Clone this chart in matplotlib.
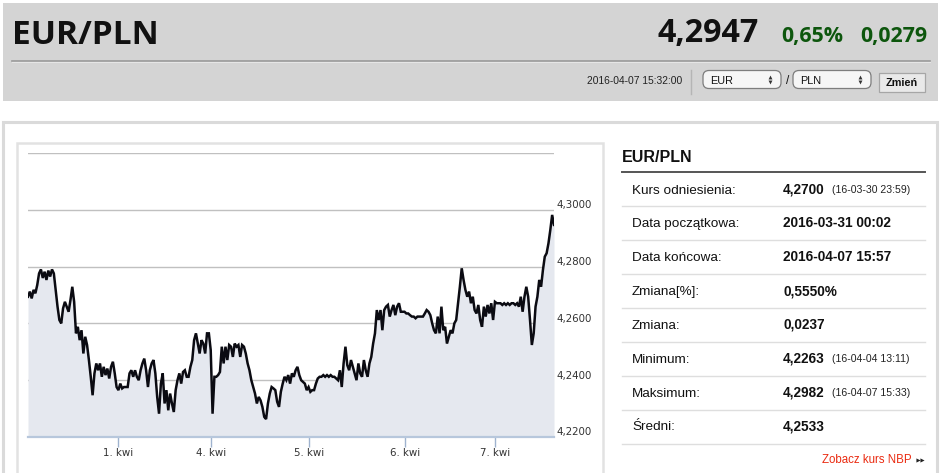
import numpy as np
import matplotlib
matplotlib.use("Agg")
import matplotlib.pyplot as plt
from matplotlib.patches import Rectangle, FancyBboxPatch
from matplotlib.transforms import blended_transform_factory

# ---------------- data ----------------
pair = "EUR/PLN"
last_rate = "4,2947"
change_pct = "0,65%"
change_abs = "0,0279"
timestamp = "2016-04-07 15:32:00"
base_cur = "EUR"
quote_cur = "PLN"
button_label = "Zmień"

# EUR/PLN quotes sampled about every 28 minutes of trading time (31 Mar 00:02 -> 7 Apr 15:57)
rates = [
    4.2694, 4.2712, 4.2688, 4.2718, 4.2706, 4.2735, 4.2776, 4.2790, 4.2760, 4.2782,
    4.2753, 4.2786, 4.2765, 4.2790, 4.2776, 4.2718, 4.2659, 4.2612, 4.2600, 4.2653,
    4.2676, 4.2659, 4.2641, 4.2682, 4.2729, 4.2676, 4.2565, 4.2588, 4.2541, 4.2576,
    4.2494, 4.2553, 4.2524, 4.2471, 4.2412, 4.2347, 4.2424, 4.2459, 4.2435, 4.2459,
    4.2412, 4.2447, 4.2418, 4.2441, 4.2406, 4.2447, 4.2465, 4.2424, 4.2376, 4.2365,
    4.2388, 4.2371, 4.2376, 4.2376, 4.2376, 4.2424, 4.2435, 4.2412, 4.2435, 4.2412,
    4.2400, 4.2435, 4.2459, 4.2476, 4.2435, 4.2376, 4.2435, 4.2459, 4.2471, 4.2424,
    4.2341, 4.2282, 4.2388, 4.2424, 4.2318, 4.2365, 4.2294, 4.2353, 4.2318, 4.2288,
    4.2365, 4.2400, 4.2424, 4.2388, 4.2429, 4.2435, 4.2412, 4.2412, 4.2447, 4.2471,
    4.2541, 4.2565, 4.2529, 4.2494, 4.2541, 4.2529, 4.2494, 4.2565, 4.2565, 4.2506,
    4.2282, 4.2412, 4.2412, 4.2418, 4.2429, 4.2518, 4.2459, 4.2518, 4.2471, 4.2524,
    4.2518, 4.2482, 4.2529, 4.2518, 4.2524, 4.2482, 4.2524, 4.2518, 4.2494, 4.2459,
    4.2435, 4.2400, 4.2376, 4.2353, 4.2318, 4.2341, 4.2329, 4.2306, 4.2271, 4.2263,
    4.2318, 4.2353, 4.2376, 4.2371, 4.2365, 4.2324, 4.2306, 4.2359, 4.2388, 4.2412,
    4.2400, 4.2418, 4.2388, 4.2424, 4.2412, 4.2435, 4.2447, 4.2418, 4.2400, 4.2394,
    4.2388, 4.2365, 4.2376, 4.2359, 4.2365, 4.2365, 4.2388, 4.2406, 4.2412, 4.2412,
    4.2418, 4.2412, 4.2418, 4.2412, 4.2418, 4.2412, 4.2412, 4.2406, 4.2400, 4.2435,
    4.2376, 4.2459, 4.2518, 4.2453, 4.2435, 4.2471, 4.2447, 4.2424, 4.2400, 4.2459,
    4.2424, 4.2412, 4.2471, 4.2435, 4.2412, 4.2459, 4.2482, 4.2529, 4.2565, 4.2647,
    4.2612, 4.2647, 4.2576, 4.2647, 4.2659, 4.2665, 4.2624, 4.2647, 4.2665, 4.2629,
    4.2659, 4.2671, 4.2641, 4.2641, 4.2641, 4.2635, 4.2635, 4.2629, 4.2624, 4.2624,
    4.2618, 4.2624, 4.2624, 4.2624, 4.2624, 4.2635, 4.2647, 4.2641, 4.2629, 4.2600,
    4.2576, 4.2565, 4.2624, 4.2565, 4.2659, 4.2576, 4.2588, 4.2529, 4.2553, 4.2576,
    4.2565, 4.2600, 4.2612, 4.2671, 4.2729, 4.2794, 4.2753, 4.2718, 4.2694, 4.2712,
    4.2671, 4.2694, 4.2647, 4.2635, 4.2665, 4.2612, 4.2588, 4.2659, 4.2624, 4.2665,
    4.2635, 4.2671, 4.2612, 4.2676, 4.2671, 4.2671, 4.2671, 4.2665, 4.2671, 4.2665,
    4.2671, 4.2665, 4.2671, 4.2671, 4.2665, 4.2671, 4.2659, 4.2694, 4.2641, 4.2694,
    4.2729, 4.2694, 4.2612, 4.2524, 4.2565, 4.2659, 4.2694, 4.2753, 4.2729, 4.2788,
    4.2835, 4.2847, 4.2882, 4.2929, 4.2982, 4.2947,
]
sample_step_days = 5 / 255.0
day_labels = ["1. kwi", "4. kwi", "5. kwi", "6. kwi", "7. kwi"]
day_ticks = [0.961, 1.949, 2.988, 4.008, 4.961]
y_ticks = [4.22, 4.24, 4.26, 4.28, 4.30, 4.32]
y_labels = ["4,2200", "4,2400", "4,2600", "4,2800", "4,3000", ""]

table_title = "EUR/PLN"
row_labels = ["Kurs odniesienia:", "Data początkowa:", "Data końcowa:", "Zmiana[%]:",
              "Zmiana:", "Minimum:", "Maksimum:", "Średni:"]
row_values = ["4,2700", "2016-03-31 00:02", "2016-04-07 15:57", "0,5550%",
              "0,0237", "4,2263", "4,2982", "4,2533"]
row_notes = ["(16-03-30 23:59)", "", "", "", "", "(16-04-04 13:11)", "(16-04-07 15:33)", ""]
nbp_link = "Zobacz kurs NBP"

# ---------------- figure ----------------
W, H = 945, 473
fig = plt.figure(figsize=(W / 100, H / 100), dpi=100)
fig.patch.set_facecolor("white")

bg = fig.add_axes([0, 0, 1, 1])
bg.set_xlim(0, W)
bg.set_ylim(H, 0)
bg.axis("off")

HEAD_FONT = ["Open Sans", "DejaVu Sans"]

# header block
bg.add_patch(Rectangle((3, 3), 935, 98, facecolor="#d4d4d4", edgecolor="none"))
bg.plot([12, 930], [61, 61], color="#9a9a9a", lw=1.2)
bg.plot([12, 930], [62.3, 62.3], color="#e6e6e6", lw=0.8)
bg.text(12, 44.3, pair, fontsize=24, fontweight="bold", color="#111111",
        family=HEAD_FONT, va="baseline", ha="left")
bg.text(759, 42.3, last_rate, fontsize=23.2, fontweight="bold", color="#111111",
        family=HEAD_FONT, va="baseline", ha="right")
bg.text(843, 42.3, change_pct, fontsize=15.4, fontweight="bold", color="#0d560d",
        family=HEAD_FONT, va="baseline", ha="right")
bg.text(927, 42.3, change_abs, fontsize=15.4, fontweight="bold", color="#0d560d",
        family=HEAD_FONT, va="baseline", ha="right")

bg.text(682, 84, timestamp, fontsize=7.4, color="#222222", family="Liberation Sans",
        va="baseline", ha="right")
bg.plot([691, 691], [70, 94], color="#b5b5b5", lw=1)

for (x0, x1, lab) in [(703, 781, base_cur), (793, 871, quote_cur)]:
    bg.add_patch(FancyBboxPatch((x0, 70.5), x1 - x0, 18, boxstyle="round,pad=0,rounding_size=6",
                                facecolor="#f6f6f6", edgecolor="#7d7d7d", lw=0.9))
    bg.text(x0 + 7, 83.5, lab, fontsize=7.8, color="#111111", family="Liberation Sans",
            va="baseline", ha="left")
    bg.plot([x1 - 11], [77.3], marker="^", ms=2.8, color="#333333", mec="none")
    bg.plot([x1 - 11], [82.3], marker="v", ms=2.8, color="#333333", mec="none")
bg.text(787.5, 84.5, "/", fontsize=8.5, color="#111111", family="Liberation Sans",
        va="baseline", ha="center")
bg.add_patch(Rectangle((879, 73), 46, 19, facecolor="#e9e9e9", edgecolor="#a6a6a6", lw=0.9))
bg.text(902, 86, button_label, fontsize=7.8, fontweight="bold", color="#111111",
        family="Liberation Sans", va="baseline", ha="center")

# main panel frames
bg.add_patch(Rectangle((3, 121.5), 934, 360, facecolor="white", edgecolor="#dadada", lw=2.2))
bg.add_patch(Rectangle((17, 143), 586, 340, facecolor="white", edgecolor="#e2e2e2", lw=1.8))

# side table
bg.text(622, 162, table_title, fontsize=11.5, fontweight="bold", color="#111111",
        family="Liberation Sans", va="baseline", ha="left")
bg.plot([622, 925], [172, 172], color="#555555", lw=1.4)
row_centers = [189, 222.7, 256.6, 290.5, 324, 358, 391.8, 425.6]
for i, (lab, val, note) in enumerate(zip(row_labels, row_values, row_notes)):
    yc = row_centers[i] + 4.7
    bg.text(632, yc, lab, fontsize=9.7, color="#111111", family="Liberation Sans",
            va="baseline", ha="left")
    bg.text(783, yc, val, fontsize=9.8, fontweight="bold", color="#111111",
            family="Liberation Sans", va="baseline", ha="left")
    if note:
        bg.text(832, yc - 0.3, note, fontsize=7.6, color="#222222", family="Liberation Sans",
                va="baseline", ha="left")
    sep = 206 + 34.05 * i
    bg.plot([622, 925], [sep, sep], color="#dedede", lw=1)
bg.text(912, 463, nbp_link, fontsize=8.3, color="#ea2a10", family="Liberation Sans",
        va="baseline", ha="right")
for dx in (0, 4):
    bg.plot([917.5 + dx], [459.5], marker=">", ms=3, color="#222222", mec="none")

# ---------------- chart ----------------
L, R, T, B = 28, 554, 153, 437
ax = fig.add_axes([L / W, 1 - B / H, (R - L) / W, (B - T) / H])
ax.set_facecolor("none")

x = np.arange(len(rates)) * sample_step_days
ax.fill_between(x, rates, y_ticks[0], color="#e5e8ef", lw=0, zorder=1)
ax.plot(x, rates, color="#0b0b12", lw=1.8, zorder=3, solid_joinstyle="miter")

ax.set_xlim(x[0], x[-1])
ax.set_ylim(y_ticks[0], y_ticks[-1])

for sp in ("top", "left", "right"):
    ax.spines[sp].set_visible(False)
ax.spines["bottom"].set_color("#b7c7dc")
ax.spines["bottom"].set_linewidth(1.6)
ax.spines["bottom"].set_zorder(4)

ax.set_yticks(y_ticks)
ax.yaxis.grid(True, color="#c0c0c0", lw=1)
ax.set_axisbelow(True)
ax.tick_params(axis="y", left=False, labelleft=False)

ax.set_xticks(day_ticks)
ax.set_xticklabels(day_labels, fontsize=7.4, color="#333333", family="DejaVu Sans")
ax.tick_params(axis="x", direction="out", length=7.2, width=1, color="#9fb3cf", pad=0.5)

trans = blended_transform_factory(ax.transAxes, ax.transData)
for v, lab in zip(y_ticks, y_labels):
    if lab:
        ax.annotate(lab, xy=(1, v), xycoords=trans, xytext=(1.5, 1.2),
                    textcoords="offset points", fontsize=7.4, color="#333333",
                    family="DejaVu Sans", va="baseline", ha="left", annotation_clip=False)

fig.savefig("out.png", dpi=100, facecolor="white")
